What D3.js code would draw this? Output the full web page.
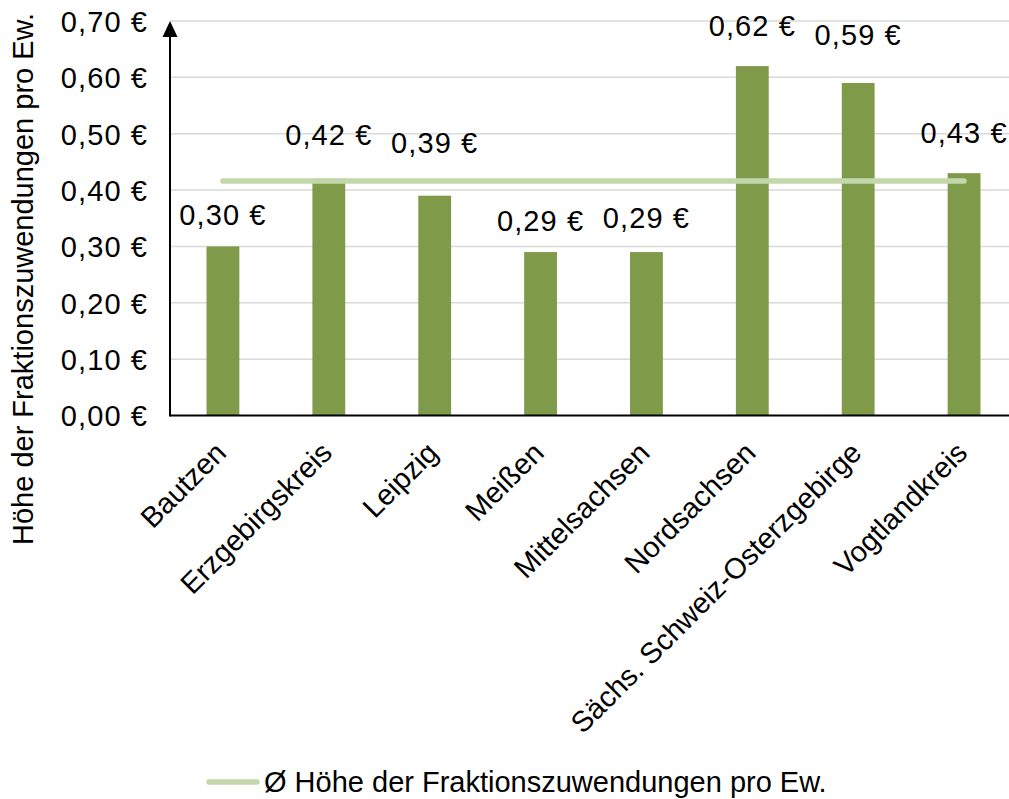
<!DOCTYPE html>
<html lang="de">
<head>
<meta charset="utf-8">
<script src="https://cdn.jsdelivr.net/npm/d3@7"></script>
<style>
  html, body { margin: 0; padding: 0; background: #fff; }
  svg { display: block; font-family: "Liberation Sans", Arial, Helvetica, sans-serif; }
</style>
</head>
<body>
<svg id="chart" width="1009" height="799"></svg>
<script>
// Landkreise (categories)
const categories = [
  "Bautzen", "Erzgebirgskreis", "Leipzig", "Meißen",
  "Mittelsachsen", "Nordsachsen", "Sächs. Schweiz-Osterzgebirge", "Vogtlandkreis"
];
// Höhe der Fraktionszuwendungen pro Einwohner (EUR)
const values = [0.30, 0.42, 0.39, 0.29, 0.29, 0.62, 0.59, 0.43];
// Durchschnitt über alle Landkreise (EUR)
const averageValue = 0.416;
// y-axis ticks
const yTicks = [0, 0.1, 0.2, 0.3, 0.4, 0.5, 0.6, 0.7];

// distance (px) from bar top to the value label baseline
const labelLift = [21.5, 34, 43, 21, 24, 30, 38, 30];

const seriesName = "Höhe der Fraktionszuwendungen pro Ew.";
const legendName = "Ø Höhe der Fraktionszuwendungen pro Ew.";

const W = 1009, H = 799;
const plot = { left: 170, right: 1017, top: 21, bottom: 415.5 };
const barColor = "#7f9b4a";
const avgColor = "#c4d7ab";
const gridColor = "#d9d9d9";
const fontSize = 29;
const numberSpacing = 1.1;

const euro = v => d3.format(".2f")(v).replace(".", ",") + " €";

const svg = d3.select("#chart");

const x = d3.scaleBand()
  .domain(categories)
  .range([plot.left, plot.right])
  .paddingInner(0.69)
  .paddingOuter(0.345);

const y = d3.scaleLinear()
  .domain([0, 0.7])
  .range([plot.bottom, plot.top]);

// horizontal gridlines
svg.append("g")
  .selectAll("line")
  .data(yTicks.filter(t => t > 0))
  .join("line")
  .attr("x1", plot.left)
  .attr("x2", W)
  .attr("y1", d => y(d))
  .attr("y2", d => y(d))
  .attr("stroke", gridColor)
  .attr("stroke-width", 1.5);

// y tick labels
const yAxis = d3.axisLeft(y)
  .tickValues(yTicks)
  .tickFormat(euro)
  .tickSize(0)
  .tickPadding(22);

const gy = svg.append("g")
  .attr("transform", `translate(${plot.left},0)`)
  .call(yAxis);
gy.select(".domain").remove();
gy.selectAll("text")
  .attr("font-size", fontSize)
  .attr("font-family", "Liberation Sans, Arial, sans-serif")
  .attr("letter-spacing", numberSpacing)
  .attr("fill", "#000")
  .attr("dy", "0.36em");

// bars
svg.append("g")
  .selectAll("rect")
  .data(values)
  .join("rect")
  .attr("x", (d, i) => x(categories[i]))
  .attr("y", d => y(d))
  .attr("width", x.bandwidth())
  .attr("height", d => y(0) - y(d))
  .attr("fill", barColor);

// average line, from the first to the last category centre
const cx = c => x(c) + x.bandwidth() / 2;
svg.append("line")
  .attr("x1", cx(categories[0]))
  .attr("x2", cx(categories[categories.length - 1]))
  .attr("y1", y(averageValue))
  .attr("y2", y(averageValue))
  .attr("stroke", avgColor)
  .attr("stroke-width", 5.5)
  .attr("stroke-linecap", "round");

// value labels
svg.append("g")
  .selectAll("text")
  .data(values)
  .join("text")
  .attr("x", (d, i) => cx(categories[i]))
  .attr("y", (d, i) => y(d) - labelLift[i])
  .attr("text-anchor", "middle")
  .attr("font-size", fontSize)
  .attr("letter-spacing", numberSpacing)
  .attr("fill", "#000")
  .text(euro);

// x axis line
svg.append("line")
  .attr("x1", plot.left)
  .attr("x2", W)
  .attr("y1", plot.bottom)
  .attr("y2", plot.bottom)
  .attr("stroke", "#000")
  .attr("stroke-width", 2);

// y axis line with arrow head
svg.append("line")
  .attr("x1", plot.left)
  .attr("x2", plot.left)
  .attr("y1", plot.bottom + 1)
  .attr("y2", plot.top + 12)
  .attr("stroke", "#000")
  .attr("stroke-width", 2);
svg.append("path")
  .attr("d", d3.line()([
    [plot.left, plot.top],
    [plot.left - 7.5, plot.top + 16],
    [plot.left + 7.5, plot.top + 16]
  ]) + "Z")
  .attr("fill", "#000");

// category labels, rotated
svg.append("g")
  .selectAll("text")
  .data(categories)
  .join("text")
  .attr("transform", d => `translate(${cx(d) + 5},${plot.bottom + 39}) rotate(-45)`)
  .attr("text-anchor", "end")
  .attr("font-size", fontSize)
  .attr("fill", "#000")
  .text(d => d);

// y axis title
svg.append("text")
  .attr("transform", `translate(33,279) rotate(-90)`)
  .attr("text-anchor", "middle")
  .attr("font-size", fontSize)
  .attr("fill", "#000")
  .text(seriesName);

// legend
const legend = svg.append("g").attr("transform", "translate(0,782)");
legend.append("line")
  .attr("x1", 209)
  .attr("x2", 257)
  .attr("stroke", avgColor)
  .attr("stroke-width", 5.5)
  .attr("stroke-linecap", "round");
legend.append("text")
  .attr("x", 264)
  .attr("y", 10)
  .attr("font-size", fontSize)
  .attr("fill", "#000")
  .text(legendName);
</script>
</body>
</html>
